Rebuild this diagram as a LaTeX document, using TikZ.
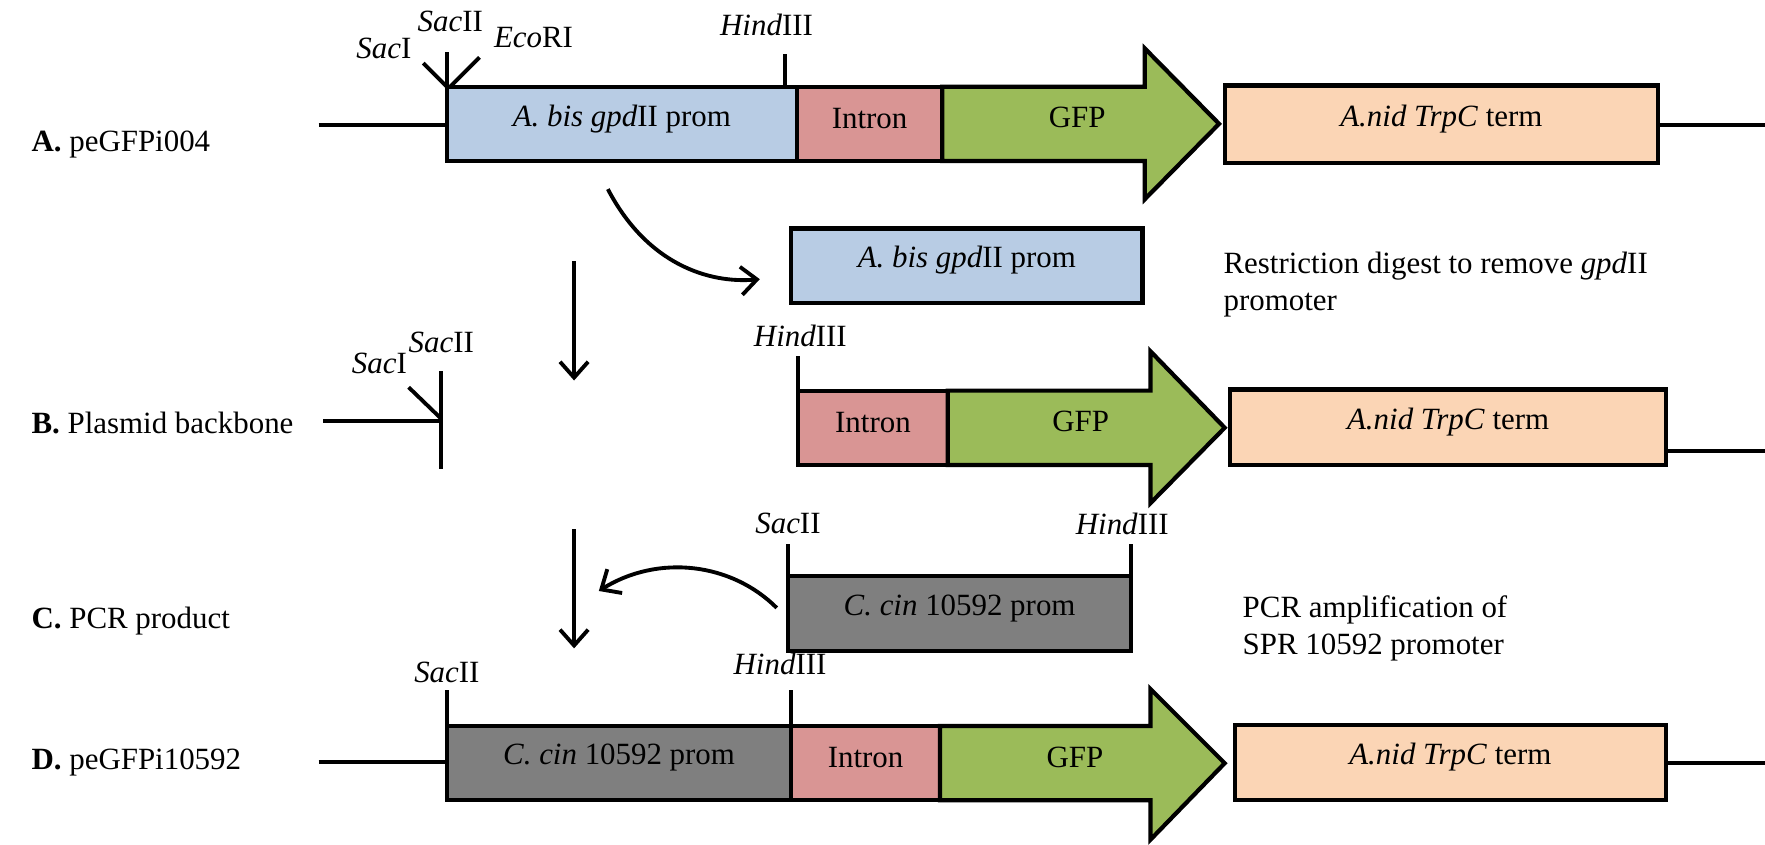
\documentclass[tikz,border=0pt]{standalone}
\usepackage{fontspec}
\setmainfont{Liberation Serif}
\usetikzlibrary{arrows.meta}

\definecolor{bisblue}{HTML}{B8CCE4}
\definecolor{intronpink}{HTML}{D99594}
\definecolor{gfpgreen}{HTML}{9BBB59}
\definecolor{termpeach}{HTML}{FBD5B5}
\definecolor{cingrey}{HTML}{7F7F7F}

\begin{document}
\begin{tikzpicture}[x=0.011257cm, y=-0.011257cm, font=\fontsize{8.8}{10.5}\selectfont,
        part/.style={draw, line width=1.2pt},
        dna/.style={line width=1.1pt},
        >={Straight Barb[length=4.5pt, width=8pt]}]
        \useasboundingbox (0,0) rectangle (1568,750);

        % A. peGFPi004
        \node[anchor=west] (labA) at (17,128) {\textbf{A.} peGFPi004};
        \draw[dna] (283,111) -- (397,111);
        \draw[part, fill=bisblue] (397,77) rectangle (708,143) node[midway, yshift=1.5pt] (bisA) {\textit{A. bis gpd}II prom};
        \draw[part, fill=intronpink] (708,77) rectangle (837,143) node[midway, yshift=1.5pt] (intA) {Intron};
        \draw[part, fill=gfpgreen] (837,77) -- (1017,77) -- (1017,43) -- (1083,110) -- (1017,177) -- (1017,143) -- (837,143) -- cycle;
        \node (gfpA) at (957,104) {GFP};
        \draw[part, fill=termpeach] (1088,76) rectangle (1473,145) node[midway, yshift=1.5pt] (trpA) {\textit{A.nid TrpC} term};
        \draw[dna] (1473,111) -- (1568,111);
        \draw[dna] (397,77) -- (376,56);
        \draw[dna] (397,77) -- (397,46);
        \draw[dna] (400,77) -- (426,51);
        \draw[dna] (697,77) -- (697,48);
        \node (sacIA) at (341,43) {\textit{Sac}I};
        \node (sacIIA) at (400,19) {\textit{Sac}II};
        \node (ecoA) at (474,33) {\textit{Eco}RI};
        \node (hindA) at (681,22) {\textit{Hind}III};

        % digest
        \coordinate (cutFrom) at (540,168);
        \coordinate (cutTo) at (675,248);
        \draw[dna, ->] (cutFrom) .. controls (575,235) and (630,252) .. (cutTo);
        \draw[part, fill=bisblue] (703,203) rectangle (1015,269) node[midway, yshift=1.5pt] (bisCut) {\textit{A. bis gpd}II prom};
        \node[anchor=west, align=left] (digest) at (1076,253) {Restriction digest to remove \textit{gpd}II\\promoter};
        \coordinate (downA) at (510,232);
        \coordinate (downB) at (510,338);
        \draw[dna, ->] (downA) -- (downB);

        % B. Plasmid backbone
        \node[anchor=west] (labB) at (17,376) {\textbf{B.} Plasmid backbone};
        \draw[dna] (287,374) -- (392,374);
        \draw[dna] (392,330) -- (392,417);
        \draw[dna] (392,372) -- (363,344);
        \node (sacIB) at (337,323) {\textit{Sac}I};
        \node (sacIIB) at (392,304) {\textit{Sac}II};
        \draw[dna] (709,347) -- (709,316);
        \node (hindB) at (711,298) {\textit{Hind}III};
        \draw[part, fill=intronpink] (709,347) rectangle (842,413) node[midway, yshift=1.5pt] (intB) {Intron};
        \draw[part, fill=gfpgreen] (842,347) -- (1022,347) -- (1022,312) -- (1088,380) -- (1022,447) -- (1022,413) -- (842,413) -- cycle;
        \node (gfpB) at (960,374) {GFP};
        \draw[part, fill=termpeach] (1093,346) rectangle (1480,413) node[midway, yshift=1.5pt] (trpB) {\textit{A.nid TrpC} term};
        \draw[dna] (1480,401) -- (1568,401);
        \coordinate (downC) at (510,470);
        \coordinate (downD) at (510,576);
        \draw[dna, ->] (downC) -- (downD);

        % C. PCR product
        \node[anchor=west] (labC) at (17,552) {\textbf{C.} PCR product};
        \draw[dna] (700,512) -- (700,483);
        \draw[dna] (1005,512) -- (1005,483);
        \node (sacIIC) at (700,465) {\textit{Sac}II};
        \node (hindC) at (997,465) {\textit{Hind}III};
        \draw[part, fill=cingrey] (700,512) rectangle (1005,578) node[midway, yshift=1.5pt] (cinC) {\textit{C. cin} 10592 prom};
        \coordinate (pcrFrom) at (690,540);
        \coordinate (pcrTo) at (532,525);
        \draw[dna, ->] (pcrFrom) .. controls (650,500) and (585,492) .. (pcrTo);
        \node[anchor=west, align=left] (pcr) at (1093,558) {PCR amplification of\\SPR 10592 promoter};

        % D. peGFPi10592
        \node[anchor=west] (labD) at (17,677) {\textbf{D.} peGFPi10592};
        \draw[dna] (283,677) -- (397,677);
        \draw[dna] (397,645) -- (397,613);
        \draw[dna] (703,645) -- (703,613);
        \node (sacIID) at (397,597) {\textit{Sac}II};
        \node (hindD) at (693,590) {\textit{Hind}III};
        \draw[part, fill=cingrey] (397,645) rectangle (703,711) node[midway, yshift=1.5pt] (cinD) {\textit{C. cin} 10592 prom};
        \draw[part, fill=intronpink] (703,645) rectangle (835,711) node[midway, yshift=1.5pt] (intD) {Intron};
        \draw[part, fill=gfpgreen] (835,645) -- (1022,645) -- (1022,612) -- (1088,678) -- (1022,746) -- (1022,711) -- (835,711) -- cycle;
        \node (gfpD) at (955,673) {GFP};
        \draw[part, fill=termpeach] (1097,644) rectangle (1480,711) node[midway, yshift=1.5pt] (trpD) {\textit{A.nid TrpC} term};
        \draw[dna] (1480,678) -- (1568,678);
\end{tikzpicture}
\end{document}
